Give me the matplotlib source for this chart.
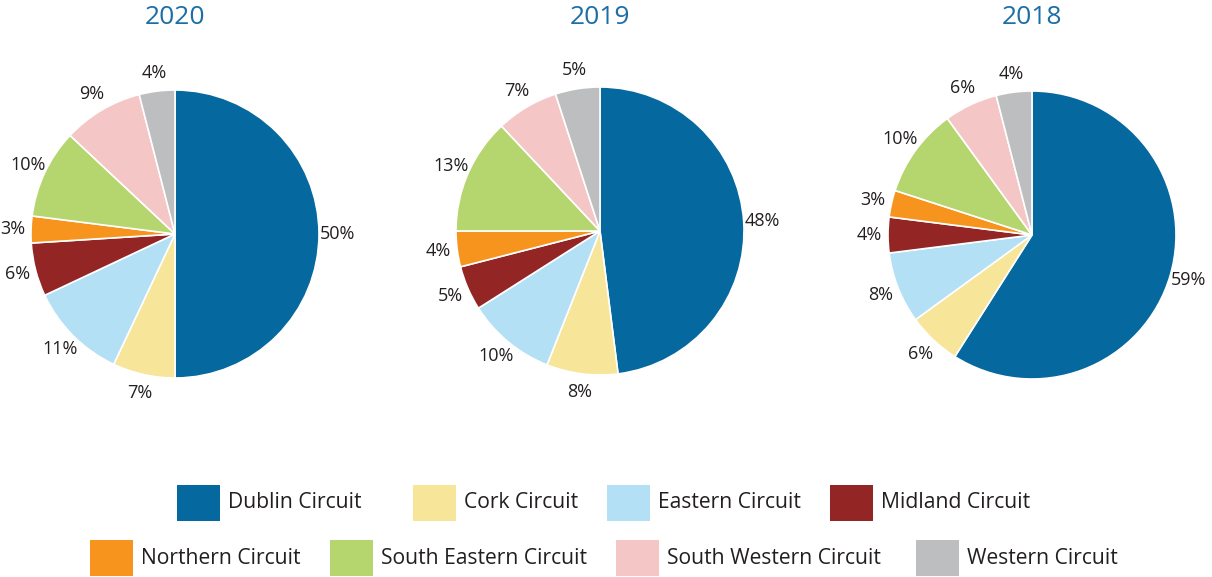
import matplotlib
matplotlib.use("Agg")
import matplotlib.pyplot as plt
from matplotlib.patches import Rectangle

plt.rcParams['font.family'] = ['Open Sans', 'DejaVu Sans']

categories = ["Dublin Circuit", "Cork Circuit", "Eastern Circuit", "Midland Circuit",
              "Northern Circuit", "South Eastern Circuit", "South Western Circuit", "Western Circuit"]
years = ["2020", "2019", "2018"]
values_2020 = [50, 7, 11, 6, 3, 10, 9, 4]
values_2019 = [48, 8, 10, 5, 4, 13, 7, 5]
values_2018 = [59, 6, 8, 4, 3, 10, 6, 4]
colors = ["#05689e", "#f7e599", "#b3e0f5", "#932624", "#f7941e", "#b5d56f", "#f4c6c5", "#bcbec0"]

W, H = 1212, 577
fig = plt.figure(figsize=(W / 100, H / 100), dpi=100)

centers = [(175, 234), (600, 231), (1032, 235)]
R = 144
text_color = "#231f20"
title_color = "#1b6ea6"

for vals, yr, (cx, cy) in zip([values_2020, values_2019, values_2018], years, centers):
    ax = fig.add_axes([(cx - R) / W, (H - cy - R) / H, 2 * R / W, 2 * R / H])
    wedges, texts = ax.pie(vals, colors=colors, startangle=90, counterclock=False,
                           labels=[f"{v}%" for v in vals], labeldistance=1.13,
                           wedgeprops=dict(edgecolor="white", linewidth=1.2),
                           textprops=dict(fontsize=13, color=text_color))
    for t in texts:
        t.set_horizontalalignment("center")
        t.set_verticalalignment("center")
    ax.set_xlim(-1, 1)
    ax.set_ylim(-1, 1)
    ax.set_aspect("equal")
    ax.axis("off")
    fig.text(cx / W, (H - 18) / H, yr, ha="center", va="center", fontsize=19, color=title_color)

# legend (manual layout)
row1_y = 503
row2_y = 558
pw, ph = 43, 36
legend_pos = [(177, row1_y), (413, row1_y), (607, row1_y), (830, row1_y),
              (90, row2_y), (330, row2_y), (616, row2_y), (916, row2_y)]
for cat, col, (px, py) in zip(categories, colors, legend_pos):
    fig.patches.append(Rectangle((px / W, (H - py - ph / 2) / H), pw / W, ph / H,
                                 transform=fig.transFigure, facecolor=col, edgecolor="none"))
    fig.text((px + pw + 8) / W, (H - py) / H, cat, ha="left", va="center",
             fontsize=15.2, color=text_color)

fig.savefig("out.png", dpi=100)
